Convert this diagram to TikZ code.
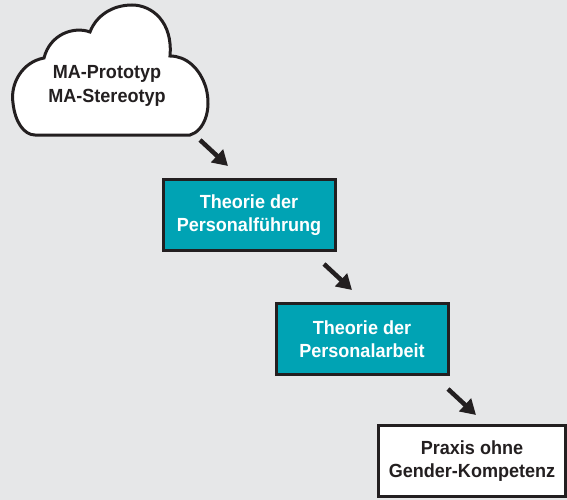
\documentclass[tikz,border=0pt]{standalone}
\usepackage{fontspec}
\setmainfont{Liberation Sans}[FakeStretch=0.95]
\usepackage{tikz}
\usetikzlibrary{arrows.meta,positioning}

\definecolor{bggray}{HTML}{E6E7E8}
\definecolor{teal}{HTML}{00A3B4}
\definecolor{ink}{HTML}{231F20}

\tikzset{
  theobox/.style={draw=ink,line width=3pt,fill=teal,text=white,
    minimum width=172pt,minimum height=71pt,align=center,
    font=\fontsize{19}{23.5}\selectfont\bfseries},
  praxbox/.style={theobox,fill=white,text=ink,minimum width=187pt},
  arr/.style={draw=ink,line width=4.5pt,-{Triangle[length=15pt,width=17pt]}}
}

\begin{document}
\begin{tikzpicture}[x=1pt,y=-1pt]
  \fill[bggray] (0,0) rectangle (567,500);
  \useasboundingbox (0,0) rectangle (567,500);

  % cloud
  \draw[ink,line width=3pt,fill=white]
    (35,135) -- (190,135)
    .. controls (204,131) and (212,110) .. (206,88)
    .. controls (200,68) and (186,56) .. (170,56)
    .. controls (173,22) and (152,5) .. (132,5)
    .. controls (112,5) and (96,16) .. (90,32)
    .. controls (74,26) and (50,34) .. (44,58)
    .. controls (22,62) and (10,84) .. (13,103)
    .. controls (15,122) and (24,135) .. (35,135) -- cycle;
  \node[align=center,text=ink,font=\fontsize{19}{23.5}\selectfont\bfseries]
    (proto) at (107,86) {MA-Prototyp\\MA-Stereotyp};

  \node[theobox] (fuehr) at (249,215) {Theorie der\\Personalführung};
  \node[theobox] (arbeit) at (362,339) {Theorie der\\Personalarbeit};
  \node[praxbox] (praxis) at (472,461) {Praxis ohne\\Gender-Kompetenz};

  \coordinate (a1s) at (200,140);
  \coordinate (a1e) at (228,166);
  \coordinate (a2s) at (324,264);
  \coordinate (a2e) at (352,290);
  \coordinate (a3s) at (448,389);
  \coordinate (a3e) at (476,415);

  \draw[arr] (a1s) -- (a1e);
  \draw[arr] (a2s) -- (a2e);
  \draw[arr] (a3s) -- (a3e);
\end{tikzpicture}
\end{document}
